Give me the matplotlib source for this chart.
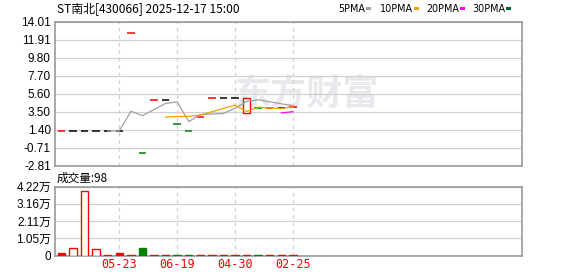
import numpy as np
import matplotlib
matplotlib.use("Agg")
import matplotlib.pyplot as plt
from matplotlib.patches import Rectangle

plt.rcParams["font.family"] = ["Liberation Sans", "Noto Sans CJK SC", "DejaVu Sans"]

# ── data ─────────────────────────────────────────────────────────────────
closes = [1.24, 1.24, 1.24, 1.24, 1.24, 1.24, 12.76, -1.29, 4.82, 4.82,
          2.10, 1.20, 2.87, 5.14, 5.14, 5.14, 5.14, 3.92, 3.95, 3.95, 4.09]
opens = list(closes)
opens[16] = 3.30
volumes = [0.18, 0.47, 3.94, 0.41, 0.03, 0.18, 0.03, 0.43, 0.03, 0.03,
           0.03, 0.03, 0.03, 0.03, 0.03, 0.03, 0.03, 0.03, 0.03, 0.03, 0.0098]  # 万
vol_hollow = [1, 2, 3]
x_ticks = [5, 10, 15, 20]
x_labels = ["05-23", "06-19", "04-30", "02-25"]
price_ticks = [14.01, 11.91, 9.80, 7.70, 5.60, 3.50, 1.40, -0.71, -2.81]
vol_ticks = [0, 1.05, 2.11, 3.16, 4.22]
ma_periods = [5, 10, 20, 30]
ma_names = ["5PMA", "10PMA", "20PMA", "30PMA"]

RED = "#ff0000"
GREEN = "#008000"
BLACK = "#000000"
MA_COLORS = ["#a0a0a0", "#f0a000", "#ff00ff", "#006633"]
FRAME = "#999999"
GRID = "#d0d0d0"

W, H = 578, 276
fig = plt.figure(figsize=(W / 100, H / 100), dpi=100)

def axbox(l, t, r, b):
    return [l / W, 1 - b / H, (r - l) / W, (b - t) / H]

ax = fig.add_axes(axbox(55, 22, 522, 165.5))
axv = fig.add_axes(axbox(55, 186.5, 522, 255.5))
xlim = (-0.56, 39.8)
n = len(closes)
x = np.arange(n)
bw = 0.64

for a in (ax, axv):
    a.set_xlim(*xlim)
    for s in a.spines.values():
        s.set_color(FRAME)
        s.set_linewidth(1.2)
    a.tick_params(length=0, pad=3, labelsize=8.5)
    a.set_xticks(x_ticks)
    a.grid(axis="x", color=GRID, linestyle=(0, (3, 3)), linewidth=0.9)
    a.grid(axis="y", color=GRID, linestyle="-", linewidth=0.9)
    a.set_axisbelow(True)

# ── price panel ──
ax.set_ylim(-2.81, 14.01)
ax.set_yticks(price_ticks)
ax.set_yticklabels([f"{v:.2f}" for v in price_ticks])
ax.set_xticklabels([])

ax.text(0.385, 0.50, "东方财富", transform=ax.transAxes, fontsize=26,
        fontweight="bold", color="#e9e9ed", family=["Noto Sans CJK SC"],
        ha="left", va="center", zorder=0)

for i in x:
    o, c = opens[i], closes[i]
    prev = closes[i - 1] if i > 0 else c - 1
    if c > o:
        ax.add_patch(Rectangle((i - bw / 2, o), bw, c - o, facecolor="white",
                               edgecolor=RED, linewidth=1.0, zorder=3))
    elif c < o:
        ax.add_patch(Rectangle((i - bw / 2, c), bw, o - c, facecolor=GREEN,
                               edgecolor=GREEN, linewidth=1.0, zorder=3))
    else:
        col = RED if c > prev else (GREEN if c < prev else BLACK)
        ax.hlines(c, i - bw / 2, i + bw / 2, color=col, linewidth=1.1, zorder=3)

cl = np.array(closes)
for p, col in zip(ma_periods, MA_COLORS):
    if n >= p:
        ma = np.convolve(cl, np.ones(p) / p, mode="valid")
        ax.plot(x[p - 1:], ma, color=col, linewidth=0.9, zorder=4)

fig.text(57 / W, 1 - 9 / H, "ST南北[430066] 2025-12-17 15:00", fontsize=8.6,
         family=["Noto Sans CJK SC"], va="center", ha="left")

leg_x = [338, 380, 426, 472]
mark_x = [366, 414, 460, 506]
for lx, mx, name, col in zip(leg_x, mark_x, ma_names, MA_COLORS):
    fig.text(lx / W, 1 - 9 / H, name, fontsize=6.9, va="center", ha="left",
             family=["DejaVu Sans"])
    fig.patches.append(Rectangle((mx / W, 1 - 10 / H), 5 / W, 3 / H,
                                 transform=fig.transFigure, facecolor=col,
                                 edgecolor="none"))

# ── volume panel ──
axv.set_ylim(0, 4.22)
axv.set_yticks(vol_ticks)
axv.set_yticklabels(["0"] + [f"{v:.2f}万" for v in vol_ticks[1:]],
                    family=["Liberation Sans", "Noto Sans CJK SC"])
axv.set_xticklabels(x_labels, color=RED, fontsize=8.5, family=["DejaVu Sans Mono"])
axv.tick_params(axis="x", pad=2)

for i in x:
    c = closes[i]
    prev = closes[i - 1] if i > 0 else c
    col = GREEN if c < prev else RED
    face = "white" if i in vol_hollow else col
    axv.bar(i, volumes[i], width=bw, facecolor=face, edgecolor=col,
            linewidth=1.0, zorder=3)

fig.text(57 / W, 1 - 178 / H, "成交量:98", fontsize=8.4,
         family=["Noto Sans CJK SC"], va="center", ha="left")

fig.savefig("out.png", dpi=100)
